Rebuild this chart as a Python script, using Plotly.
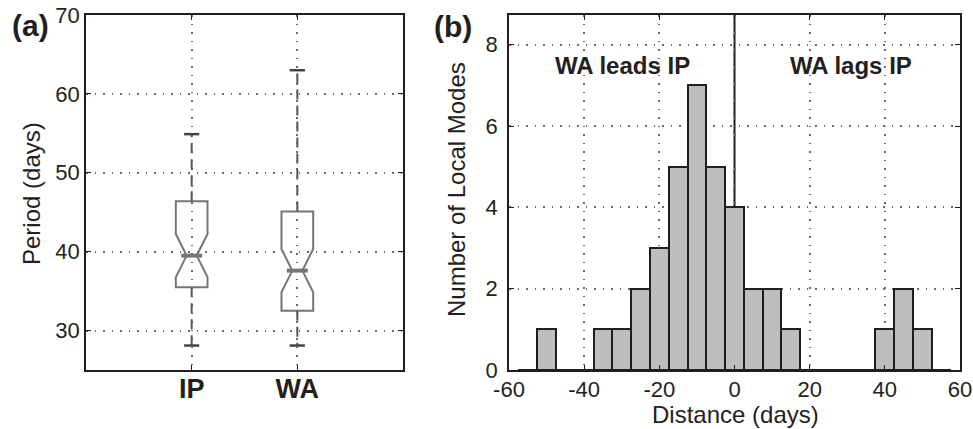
import plotly.graph_objects as go

# ---------------- data ----------------
# Panel (a): box plot statistics (days)
box_names = ["IP", "WA"]
box_pos = [1, 2]
box_q1 = [35.5, 32.5]
box_median = [39.5, 37.6]
box_q3 = [46.4, 45.1]
box_lower_whisker = [28.1, 28.1]
box_upper_whisker = [54.9, 63.0]
box_notchspan = [2.75, 2.75]
left_yticks = [30, 40, 50, 60, 70]

# Panel (b): histogram of distance (days)
bin_centers = [-55, -50, -45, -40, -35, -30, -25, -20, -15, -10, -5, 0,
               5, 10, 15, 20, 25, 30, 35, 40, 45, 50, 55]
bin_counts = [0, 1, 0, 0, 1, 1, 2, 3, 5, 7, 5, 4,
              2, 2, 1, 0, 0, 0, 0, 1, 2, 1, 0]
bin_width = 5
right_xticks = [-60, -40, -20, 0, 20, 40, 60]
right_xticktext = ["-60", "-40", "-20", "0", "20", "40", "60"]
right_yticks = [0, 2, 4, 6, 8]
split_at = 0
region_labels = ["WA leads IP", "WA lags IP"]
region_x = [-29.7, 30.9]
region_y = [7.5, 7.5]

# ---------------- style ----------------
FONT = "Liberation Sans, Arial, Helvetica, sans-serif"
TXT = "#231f20"
BOX_COL = "#767676"
WHISK_COL = "#555555"
CAP_COL = "#444444"
box_w = 0.30
notch_w = 0.34
cap_half = 0.072

fig = go.Figure()

# boxes (without whiskers)
for i in range(len(box_names)):
    fig.add_trace(go.Box(
        x=[box_pos[i]], q1=[box_q1[i]], median=[box_median[i]], q3=[box_q3[i]],
        lowerfence=[box_q1[i]], upperfence=[box_q3[i]],
        notched=True, notchspan=[box_notchspan[i]], notchwidth=notch_w,
        width=box_w, whiskerwidth=0, boxpoints=False,
        line=dict(color=BOX_COL, width=2), fillcolor="rgba(0,0,0,0)",
        xaxis="x", yaxis="y", showlegend=False, hoverinfo="skip"))
    # thicker median
    mh = box_w / 2 * (1 - notch_w)
    fig.add_trace(go.Scatter(
        x=[box_pos[i] - mh, box_pos[i] + mh], y=[box_median[i], box_median[i]],
        mode="lines", line=dict(color=BOX_COL, width=4),
        xaxis="x", yaxis="y", showlegend=False, hoverinfo="skip"))
    # dashed whiskers
    fig.add_trace(go.Scatter(
        x=[box_pos[i], box_pos[i], None, box_pos[i], box_pos[i]],
        y=[box_q3[i], box_upper_whisker[i], None, box_q1[i], box_lower_whisker[i]],
        mode="lines", line=dict(color=WHISK_COL, width=2, dash="10px,6px"),
        xaxis="x", yaxis="y", showlegend=False, hoverinfo="skip"))
    # caps
    fig.add_trace(go.Scatter(
        x=[box_pos[i] - cap_half, box_pos[i] + cap_half, None,
           box_pos[i] - cap_half, box_pos[i] + cap_half],
        y=[box_upper_whisker[i], box_upper_whisker[i], None,
           box_lower_whisker[i], box_lower_whisker[i]],
        mode="lines", line=dict(color=CAP_COL, width=2.5),
        xaxis="x", yaxis="y", showlegend=False, hoverinfo="skip"))

# histogram bars
fig.add_trace(go.Bar(
    x=bin_centers, y=bin_counts, width=bin_width,
    marker=dict(color="#bdbec0", line=dict(color="#1e1e1e", width=2)),
    xaxis="x2", yaxis="y2", showlegend=False, hoverinfo="skip"))

# reference line at zero (below bars)
fig.add_shape(type="line", xref="x2", yref="y2 domain", x0=split_at, x1=split_at,
              y0=0, y1=1, line=dict(color="#1e1e1e", width=2), layer="below")

for t, xx, yy in zip(region_labels, region_x, region_y):
    fig.add_annotation(text="<b>%s</b>" % t, x=xx, y=yy, xref="x2", yref="y2",
                       showarrow=False, font=dict(size=24, color=TXT, family=FONT),
                       xanchor="center", yanchor="middle")

# panel labels
fig.add_annotation(text="<b>(a)</b>", x=10 / 973, y=1 - 25.5 / 429, xref="paper", yref="paper",
                   xanchor="left", yanchor="middle", showarrow=False,
                   font=dict(size=30, color=TXT, family=FONT))
fig.add_annotation(text="<b>(b)</b>", x=432 / 973, y=1 - 27 / 429, xref="paper", yref="paper",
                   xanchor="left", yanchor="middle", showarrow=False,
                   font=dict(size=30, color=TXT, family=FONT))

# axis titles as annotations
fig.add_annotation(text="Period (days)", x=31 / 973, y=1 - 194 / 429, xref="paper", yref="paper",
                   textangle=-90, showarrow=False, xanchor="center", yanchor="middle",
                   font=dict(size=24, color=TXT, family=FONT))
fig.add_annotation(text="Number of Local Modes", x=456 / 973, y=1 - 190 / 429, xref="paper",
                   yref="paper", textangle=-90, showarrow=False, xanchor="center",
                   yanchor="middle", font=dict(size=24, color=TXT, family=FONT))
fig.add_annotation(text="Distance (days)", x=735 / 973, y=1 - 414 / 429, xref="paper",
                   yref="paper", showarrow=False, xanchor="center", yanchor="middle",
                   font=dict(size=24, color=TXT, family=FONT))

ax_common = dict(showline=True, linecolor="#1e1e1e", linewidth=1.5, mirror="ticks",
                 ticks="inside", ticklen=5, tickwidth=1, tickcolor="#1e1e1e",
                 showgrid=True, gridcolor="#6a6a6a", griddash="1.5px,7px", gridwidth=1.5,
                 zeroline=False, automargin=False,
                 tickfont=dict(size=22, color=TXT, family=FONT))

ydom = [59 / 429, 414 / 429]
fig.update_layout(
    width=973, height=429, margin=dict(l=0, r=0, t=0, b=0, pad=0, autoexpand=False),
    paper_bgcolor="white", plot_bgcolor="white",
    xaxis=dict(ax_common, domain=[86 / 973, 403 / 973], range=[0, 3],
               tickvals=box_pos, ticktext=["<b>%s</b>" % n for n in box_names],
               tickfont=dict(size=27, color=TXT, family=FONT), anchor="y",
               ticklabelstandoff=-6),
    yaxis=dict(ax_common, domain=ydom, range=[25, 70], tickvals=left_yticks, anchor="x"),
    xaxis2=dict(ax_common, domain=[509 / 973, 960 / 973], range=[-60, 60],
                tickvals=right_xticks, ticktext=right_xticktext, anchor="y2",
                ticklabelstandoff=-1),
    yaxis2=dict(ax_common, domain=ydom, range=[0, 8.73], tickvals=right_yticks, anchor="x2",
                ticklabelstandoff=5),
    bargap=0,
)

fig.write_html(
    "out.html",
    config={"displayModeBar": False},
    post_script="document.documentElement.style.margin='0';"
                "document.body.style.margin='0';"
                "document.body.style.overflow='hidden';",
)
